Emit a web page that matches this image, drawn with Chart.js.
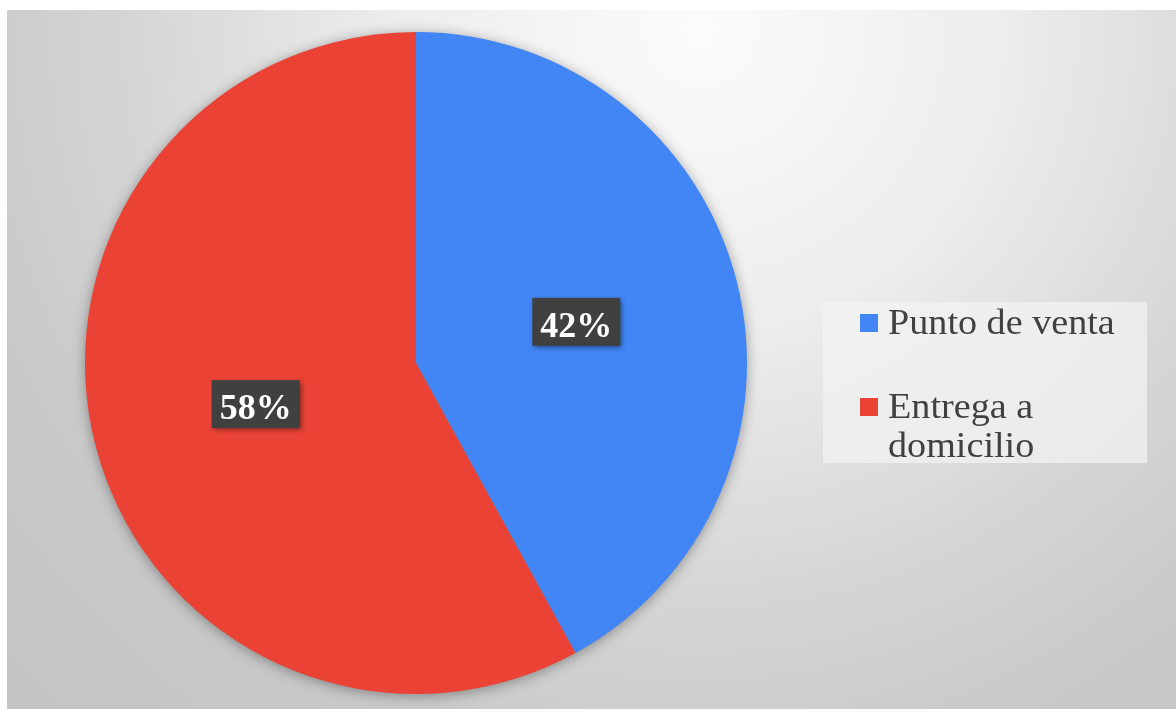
<!DOCTYPE html>
<html>
<head>
<meta charset="utf-8">
<title>Punto de venta vs entrega a domicilio</title>
<script src="https://cdn.jsdelivr.net/npm/chart.js@4/dist/chart.umd.min.js"></script>
<style>
  html, body { margin: 0; padding: 0; background: #fff; }
  canvas { display: block; }
</style>
</head>
<body>
<canvas id="myChart" width="1176" height="709"></canvas>
<script>
// delivery channel share, in percent
const labels = ['Punto de venta', 'Entrega a domicilio'];
const shares = [42, 58];
const colors = ['#4285f4', '#ea4335'];

const serif = '"Liberation Serif", "Times New Roman", serif';

// grey radial backdrop behind the whole chart
const backdrop = {
  id: 'backdrop',
  beforeDraw(chart) {
    const ctx = chart.ctx;
    ctx.save();
    ctx.fillStyle = '#ffffff';
    ctx.fillRect(0, 0, chart.width, chart.height);
    const g = ctx.createRadialGradient(700, 30, 0, 700, 30, 1000);
    g.addColorStop(0, '#fbfbfb');
    g.addColorStop(0.3, '#ededed');
    g.addColorStop(0.56, '#d6d6d6');
    g.addColorStop(0.76, '#c8c8c8');
    g.addColorStop(1, '#c3c3c3');
    ctx.fillStyle = g;
    ctx.fillRect(7, 10, chart.width - 7, chart.height - 10);
    ctx.restore();
  },
  // soft shadow under the pie, drawn once so slices stay crisp
  beforeDatasetsDraw(chart) {
    const arc = chart.getDatasetMeta(0).data[0];
    if (!arc) return;
    const ctx = chart.ctx;
    ctx.save();
    ctx.shadowColor = 'rgba(0,0,0,0.4)';
    ctx.shadowBlur = 14;
    ctx.shadowOffsetY = 2;
    ctx.fillStyle = '#888';
    ctx.beginPath();
    ctx.arc(arc.x, arc.y, arc.outerRadius - 1, 0, Math.PI * 2);
    ctx.fill();
    ctx.restore();
  }
};

// percentage boxes in the middle of each slice
const sliceLabels = {
  id: 'sliceLabels',
  afterDatasetsDraw(chart) {
    const ctx = chart.ctx;
    const data = chart.data.datasets[0].data;
    chart.getDatasetMeta(0).data.forEach((arc, i) => {
      const p = arc.tooltipPosition();
      const w = 88, h = 48;
      ctx.save();
      ctx.shadowColor = 'rgba(0,0,0,0.45)';
      ctx.shadowBlur = 5;
      ctx.shadowOffsetX = 2;
      ctx.shadowOffsetY = 2;
      ctx.fillStyle = '#404040';
      ctx.fillRect(p.x - w / 2, p.y - h / 2, w, h);
      ctx.restore();

      ctx.save();
      ctx.font = 'bold 36px ' + serif;
      ctx.fillStyle = '#ffffff';
      ctx.textAlign = 'center';
      ctx.textBaseline = 'alphabetic';
      ctx.fillText(data[i] + '%', p.x, p.y + 15);
      ctx.restore();
    });
  }
};

// legend box on the right, with word wrapping
const sideLegend = {
  id: 'sideLegend',
  afterDraw(chart) {
    const ctx = chart.ctx;
    const boxX = 823, boxY = 302, boxW = 324, boxH = 161;
    const textX = 888, sq = 18;
    const sx = 1.06, maxW = 250;
    const rowY = [334, 418];
    const lineH = 39;

    ctx.save();
    ctx.fillStyle = 'rgba(243,243,243,0.7)';
    ctx.fillRect(boxX, boxY, boxW, boxH);

    ctx.font = '36px ' + serif;
    ctx.textBaseline = 'alphabetic';
    chart.data.labels.forEach((label, i) => {
      // split into lines that fit
      const words = label.split(' ');
      const lines = [];
      let cur = '';
      words.forEach(wd => {
        const t = cur ? cur + ' ' + wd : wd;
        if (ctx.measureText(t).width * sx > maxW && cur) {
          lines.push(cur);
          cur = wd;
        } else {
          cur = t;
        }
      });
      lines.push(cur);

      const base = rowY[i];
      ctx.fillStyle = chart.data.datasets[0].backgroundColor[i];
      ctx.fillRect(860, base - 20, sq, sq);

      ctx.fillStyle = '#404040';
      lines.forEach((ln, k) => {
        ctx.save();
        ctx.translate(textX, base + k * lineH);
        ctx.scale(sx, 1);
        ctx.fillText(ln, 0, 0);
        ctx.restore();
      });
    });
    ctx.restore();
  }
};

const ctx = document.getElementById('myChart').getContext('2d');
const myChart = new Chart(ctx, {
  type: 'pie',
  data: {
    labels: labels,
    datasets: [{
      data: shares,
      backgroundColor: colors,
      borderWidth: 0
    }]
  },
  options: {
    responsive: false,
    animation: false,
    devicePixelRatio: 1,
    layout: {
      padding: { left: 85, right: 429, top: 32, bottom: 15 }
    },
    plugins: {
      legend: { display: false },
      tooltip: { enabled: false }
    }
  },
  plugins: [backdrop, sliceLabels, sideLegend]
});
</script>
</body>
</html>
